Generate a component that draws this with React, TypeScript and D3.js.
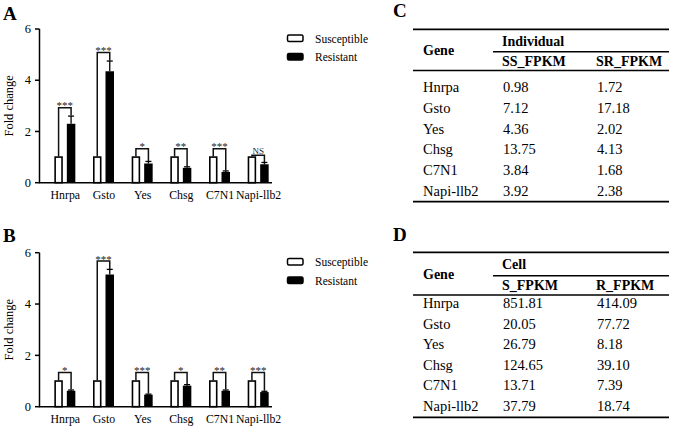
import React from "react";
import * as d3 from "d3";

const genes = ["Hnrpa", "Gsto", "Yes", "Chsg", "C7N1", "Napi-llb2"];
const yTicks = [0, 2, 4, 6];

const susA = [1, 1, 1, 1, 1, 1];
const resA = [2.3, 4.35, 0.75, 0.58, 0.42, 0.72];
const errA = [0.3, 0.4, 0.08, 0.04, 0.04, 0.07];
const sigA = ["***", "***", "*", "**", "***", "NS"];

const susB = [1, 1, 1, 1, 1, 1];
const resB = [0.62, 5.15, 0.47, 0.82, 0.62, 0.57];
const errB = [0.03, 0.2, 0.02, 0.04, 0.03, 0.03];
const sigB = ["*", "***", "***", "*", "**", "***"];

const legendLabels = ["Susceptible", "Resistant"];

const tableCGroup = "Individual";
const tableCCols = ["SS_FPKM", "SR_FPKM"];
const tableCss = ["0.98", "7.12", "4.36", "13.75", "3.84", "3.92"];
const tableCsr = ["1.72", "17.18", "2.02", "4.13", "1.68", "2.38"];

const tableDGroup = "Cell";
const tableDCols = ["S_FPKM", "R_FPKM"];
const tableDs = ["851.81", "20.05", "26.79", "124.65", "13.71", "37.79"];
const tableDr = ["414.09", "77.72", "8.18", "39.10", "7.39", "18.74"];

const FONT = "'Liberation Serif', 'Times New Roman', serif";

function BarChart({ top, bottom, sus, res, err, sig, letter, letterY, legendY }: any) {
  const y = d3.scaleLinear().domain([0, 6]).range([bottom, top]);
  const x = d3.scaleBand().domain(genes).range([46, 278]);
  const bw = x.bandwidth();
  const sub = d3.scaleBand().domain(["S", "R"]).range([bw / 2 - 11, bw / 2 + 10]).paddingInner(0.32);
  const axisX = 39.5;
  return (
    <g fontFamily={FONT}>
      <text x={3} y={letterY} fontSize={19} fontWeight="bold">{letter}</text>
      <line x1={axisX} x2={axisX} y1={y(6)} y2={y(0)} stroke="#000" strokeWidth={1.5} />
      {yTicks.map((t) => (
        <g key={t}>
          <line x1={axisX - 4.5} x2={axisX} y1={y(t)} y2={y(t)} stroke="#000" strokeWidth={1.5} />
          <text x={31} y={y(t) + 4.2} fontSize={12.5} textAnchor="end">{t}</text>
        </g>
      ))}
      <text transform={`translate(13,${(y(0) + y(6)) / 2}) rotate(-90)`} fontSize={12.5} textAnchor="middle">Fold change</text>
      <line x1={axisX - 0.75} x2={272} y1={y(0)} y2={y(0)} stroke="#000" strokeWidth={1.5} />
      {genes.map((g, i) => {
        const x0 = x(g)!;
        const sx = x0 + sub("S")!;
        const rx = x0 + sub("R")!;
        const w = sub.bandwidth();
        const sTop = y(sus[i]);
        const rTopVal = res[i] + err[i];
        const rTop = y(rTopVal);
        const isNS = sig[i] === "NS";
        const level = Math.max(sus[i], rTopVal) + (isNS ? 0.07 : 0.33);
        const by = y(level);
        const lx = sx + w / 2;
        const rxc = rx + w / 2;
        return (
          <g key={g}>
            <rect x={sx + 0.8} y={sTop} width={w - 1.6} height={y(0) - sTop} fill="#fff" stroke="#000" strokeWidth={1.6} />
            <rect x={rx} y={y(res[i])} width={w} height={y(0) - y(res[i])} fill="#000" />
            <line x1={rxc} x2={rxc} y1={y(res[i])} y2={rTop} stroke="#000" strokeWidth={1.3} />
            <line x1={rxc - 3} x2={rxc + 3} y1={rTop} y2={rTop} stroke="#000" strokeWidth={1.3} />
            <path d={`M${lx},${sTop - 0.5}V${by}H${rxc}V${rTop - 0.5}`} fill="none" stroke="#111" strokeWidth={1.5} />
            <text x={(lx + rxc) / 2} y={isNS ? by - 1.5 : by + 1.8} fontSize={isNS ? 9 : 11} textAnchor="middle" fill="#222">{sig[i]}</text>
            <text x={x0 + bw / 2} y={y(0) + 16.5} fontSize={11.8} textAnchor="middle">{g}</text>
          </g>
        );
      })}
      {legendLabels.map((l, i) => (
        <g key={l}>
          <rect x={287.5} y={legendY + i * 18.5} width={15.5} height={6.5} rx={1.5} fill={i === 0 ? "#fff" : "#000"} stroke="#000" strokeWidth={1.5} />
          <text x={315} y={legendY + i * 18.5 + 7.5} fontSize={11.5}>{l}</text>
        </g>
      ))}
    </g>
  );
}

function Table({ letter, letterY, top, sub, header, rowStart, rowStep, bottom, group, cols, c1, c2 }: any) {
  const xs = [423, 502, 596];
  const rows = d3.range(genes.length);
  const rowY = d3.scaleLinear().domain([0, 1]).range([rowStart, rowStart + rowStep]);
  const left = 413;
  const right = 669;
  return (
    <g fontFamily={FONT}>
      <text x={393} y={letterY} fontSize={19} fontWeight="bold">{letter}</text>
      <line x1={left} x2={right} y1={top} y2={top} stroke="#000" strokeWidth={1.8} />
      <line x1={493} x2={right} y1={sub} y2={sub} stroke="#000" strokeWidth={1.5} />
      <line x1={left} x2={right} y1={header} y2={header} stroke="#000" strokeWidth={1.5} />
      <line x1={left} x2={right} y1={bottom} y2={bottom} stroke="#000" strokeWidth={1.8} />
      <text x={xs[0]} y={(top + header) / 2 + 5} fontSize={14} fontWeight="bold">Gene</text>
      <text x={xs[1]} y={(top + sub) / 2 + 5} fontSize={14} fontWeight="bold">{group}</text>
      {cols.map((c: string, i: number) => (
        <text key={c} x={xs[i + 1]} y={(sub + header) / 2 + 5} fontSize={14} fontWeight="bold">{c}</text>
      ))}
      {rows.map((r) => (
        <g key={r}>
          <text x={xs[0]} y={rowY(r) + 5} fontSize={14.5}>{genes[r]}</text>
          <text x={xs[1] + 1} y={rowY(r) + 5} fontSize={14.5}>{c1[r]}</text>
          <text x={xs[2] + 1} y={rowY(r) + 5} fontSize={14.5}>{c2[r]}</text>
        </g>
      ))}
    </g>
  );
}

export default function App() {
  return (
    <svg width={675} height={428} style={{ position: "absolute", left: 0, top: 0, background: "#fff" }}>
      <rect x={0} y={0} width={675} height={428} fill="#fff" />
      <BarChart top={29} bottom={182.7} sus={susA} res={resA} err={errA} sig={sigA} letter="A" letterY={20} legendY={35} />
      <BarChart top={252.7} bottom={406.7} sus={susB} res={resB} err={errB} sig={sigB} letter="B" letterY={242} legendY={258.5} />
      <Table letter="C" letterY={17} top={29.3} sub={51.7} header={70.5} rowStart={87.3} rowStep={20.7} bottom={201.7}
        group={tableCGroup} cols={tableCCols} c1={tableCss} c2={tableCsr} />
      <Table letter="D" letterY={241} top={252.3} sub={275.7} header={295} rowStart={303} rowStep={20.6} bottom={417.3}
        group={tableDGroup} cols={tableDCols} c1={tableDs} c2={tableDr} />
    </svg>
  );
}
